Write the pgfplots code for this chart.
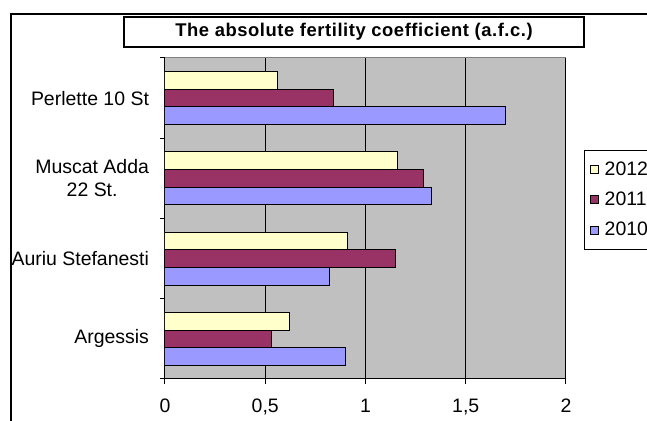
\documentclass[border=0pt]{standalone}
\usepackage{pgfplots}
\pgfplotsset{compat=1.18}
\usepackage{fontspec}
\setmainfont{Liberation Sans}
\newfontfamily\titlefont[LetterSpace=3.0]{Liberation Sans}
\definecolor{c2012}{HTML}{FFFFCC}
\definecolor{c2011}{HTML}{993366}
\definecolor{c2010}{HTML}{9999FF}
\definecolor{bgray}{HTML}{C0C0C0}
\definecolor{edgegray}{HTML}{808080}
\begin{document}
\begin{tikzpicture}
\clip (0,0) rectangle (485.25pt,315.75pt);
\fill[white] (0,0) rectangle (485.25pt,315.75pt);
\draw[line width=0.9pt] (8.25pt,-2pt) -- (8.25pt,305.25pt) -- (490pt,305.25pt);
\draw[line width=0.9pt] (93pt,280.5pt) rectangle (438pt,303pt);
\node at (265.5pt,291.75pt) {\titlefont\bfseries\fontsize{13.8}{16}\selectfont The absolute fertility coefficient (a.f.c.)};
\begin{axis}[
  at={(123.75pt,31.5pt)}, anchor=south west, scale only axis,
  width=300.75pt, height=240.75pt,
  xbar, bar width=0.22,
  xmin=0, xmax=2, ymin=-0.5, ymax=3.5,
  axis x line*=bottom, axis y line*=left,
  axis line style={black, line width=0.75pt},
  axis background/.style={fill=bgray, draw=edgegray, line width=0.75pt},
  xtick={0,0.5,1,1.5,2}, xticklabels={0,{0,5},1,{1,5},2},
  xmajorgrids, major grid style={black, line width=0.75pt},
  ytick={-0.5,0.5,1.5,2.5,3.5}, yticklabels={},
  extra y ticks={0,1,2,3},
  extra y tick labels={Argessis, Auriu Stefanesti, {Muscat Adda\\22 St.}, Perlette 10 St},
  extra y tick style={tick style={draw=none}},
  tick align=outside, major tick length=3.5pt,
  tick style={black, line width=0.75pt},
  tick label style={font=\fontsize{14.6}{17.5}\selectfont},
  xticklabel style={yshift=-8.2pt},
  yticklabel style={align=center, xshift=-5pt},
  legend style={at={(1.0449,0.7134)}, anchor=north west, draw=black, line width=0.75pt,
    fill=white, font=\fontsize{14.6}{17.5}\selectfont, row sep=7pt,
    inner xsep=4pt, inner ysep=6.5pt, cells={anchor=west}},
  legend image code/.code={\draw[#1,line width=0.6pt] (1.5pt,-3pt) rectangle (7.5pt,3pt); \path (10pt,0pt);},
]
\addplot[fill=c2012, draw=black, line width=0.75pt, bar shift=0.22] coordinates {(0.62,0) (0.91,1) (1.16,2) (0.56,3)};
\addplot[fill=c2011, draw=black, line width=0.75pt, bar shift=0] coordinates {(0.53,0) (1.15,1) (1.29,2) (0.84,3)};
\addplot[fill=c2010, draw=black, line width=0.75pt, bar shift=-0.22] coordinates {(0.90,0) (0.82,1) (1.33,2) (1.70,3)};
\legend{2012,2011,2010}
\end{axis}
\end{tikzpicture}
\end{document}
